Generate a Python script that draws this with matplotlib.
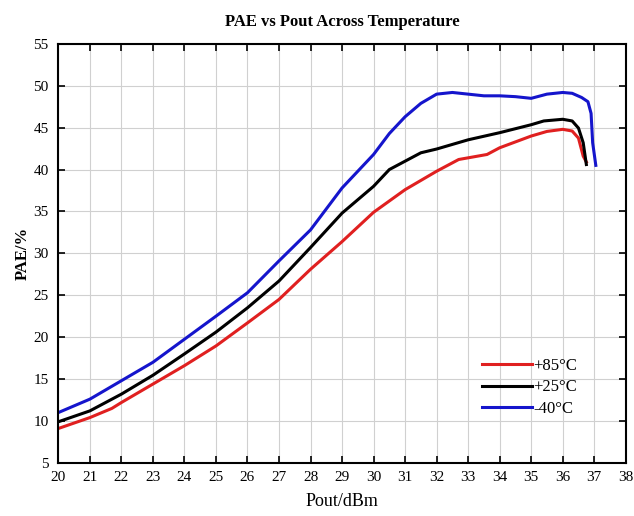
import matplotlib.pyplot as plt

plt.rcParams['font.family'] = ['Liberation Serif', 'DejaVu Serif']

# Pout (dBm) / PAE (%)
x_85 = [20, 21, 21.7, 22, 23, 24, 25, 26, 27, 28, 29, 30, 31, 32, 32.7, 33, 33.6, 34, 35, 35.5, 36, 36.3, 36.5, 36.65, 36.75]
pae_85 = [9.1, 10.4, 11.5, 12.2, 14.4, 16.6, 18.95, 21.7, 24.5, 28.1, 31.4, 34.9, 37.6, 39.8, 41.2, 41.4, 41.8, 42.6, 44.0, 44.55, 44.8, 44.6, 43.75, 41.6, 40.9]

x_25 = [20, 21, 22, 23, 24, 25, 26, 27, 28, 29, 30, 30.5, 31, 31.5, 32, 33, 34, 35, 35.4, 36, 36.3, 36.5, 36.65, 36.75]
pae_25 = [9.9, 11.2, 13.2, 15.45, 18.0, 20.6, 23.5, 26.7, 30.7, 34.8, 38.0, 40.0, 41.0, 42.0, 42.45, 43.55, 44.4, 45.35, 45.8, 46.0, 45.8, 44.95, 43.2, 40.6]

x_40 = [20, 21, 21.5, 22, 23, 24, 25, 26, 27, 28, 29, 30, 30.5, 31, 31.5, 32, 32.5, 33, 33.5, 34, 34.5, 35, 35.5, 36, 36.3, 36.6, 36.8, 36.9, 36.95, 37.05]
pae_40 = [11.0, 12.6, 13.7, 14.8, 17.0, 19.75, 22.5, 25.3, 29.1, 32.8, 37.8, 41.8, 44.3, 46.3, 47.9, 49.0, 49.2, 49.0, 48.8, 48.8, 48.7, 48.5, 49.0, 49.2, 49.1, 48.6, 48.1, 46.7, 43.2, 40.5]

fig = plt.figure(figsize=(6.34, 5.16), dpi=100)
ax = fig.add_axes([0.092, 0.103, 0.895, 0.812])

ax.plot(x_85, pae_85, color='#e02020', lw=2.2, label='+85°C')
ax.plot(x_25, pae_25, color='black', lw=2.2, label='+25°C')
ax.plot(x_40, pae_40, color='#1515cc', lw=2.2, label='-40°C')

ax.set_xlim(20, 38)
ax.set_ylim(5, 55)
ax.set_xticks(range(20, 39))
ax.set_yticks(range(5, 56, 5))
ax.grid(True, color='#d0d0d0', lw=0.8)
ax.tick_params(direction='in', top=True, right=True, length=5, width=1.2, labelsize=11, colors='black')
ax.tick_params(axis='y', pad=7)
ax.tick_params(axis='x', pad=6)
for s in ax.spines.values():
    s.set_linewidth(1.5)

ax.set_title('PAE vs Pout Across Temperature', fontsize=12, fontweight='bold', pad=13)
ax.set_xlabel('Pout/dBm', fontsize=13, labelpad=6)
ax.set_ylabel('PAE/%', fontsize=12, fontweight='bold', labelpad=2)

ax.legend(loc='center', bbox_to_anchor=(0.83, 0.18), frameon=False, fontsize=12,
          handlelength=3.0, handletextpad=0.1, labelspacing=0.35)

fig.savefig('out.png', dpi=100)
